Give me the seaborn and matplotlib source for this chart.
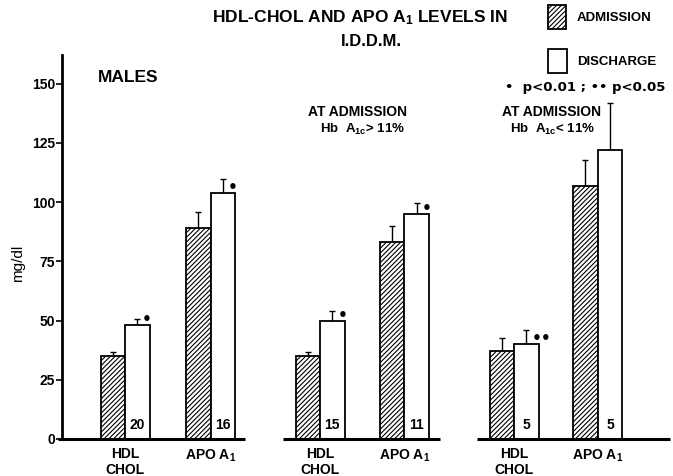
import matplotlib
matplotlib.use("Agg")
import matplotlib.pyplot as plt
import seaborn as sns
import pandas as pd
import numpy as np
from matplotlib.patches import Rectangle

# ---------------- data ----------------
measures = ["HDL\nCHOL", "APO A$_1$"]
groups = ["MALES", "Hb A1c > 11%", "Hb A1c < 11%"]
admission = [35, 89, 35, 83, 37, 107]
admission_err = [1.9, 6.9, 1.9, 7.1, 5.6, 11.0]
discharge = [48, 104, 50, 95, 40, 122]
discharge_err = [2.5, 6.0, 4.1, 4.8, 6.2, 19.7]
n_subjects = ["20", "16", "15", "11", "5", "5"]
significance = ["•", "•", "•", "•", "••", ""]
yticks = [0, 25, 50, 75, 100, 125, 150]

# ---------------- layout ----------------
W, H = 673, 476
sns.set_style("ticks")
FONT = "Liberation Sans"
plt.rcParams["font.family"] = [FONT, "DejaVu Sans"]
plt.rcParams["font.weight"] = "bold"
plt.rcParams["mathtext.fontset"] = "custom"
plt.rcParams["mathtext.bf"] = FONT + ":bold"
plt.rcParams["mathtext.rm"] = FONT + ":bold"
plt.rcParams["mathtext.default"] = "bf"
plt.rcParams["hatch.linewidth"] = 0.8
for k in ["text.color", "axes.labelcolor", "xtick.color", "ytick.color", "axes.edgecolor"]:
    plt.rcParams[k] = "black"

fig = plt.figure(figsize=(W / 100, H / 100), dpi=100)
x0_px, y0_px, ytop_px = 62, 439, 55
ax = fig.add_axes([x0_px / W, (H - y0_px) / H, (W - x0_px) / W, (y0_px - ytop_px) / H])

# pair centres in pixel-like layout units
pair_centers = [125, 210.7, 320, 404.3, 514, 597.7]
baselines = [(58, 245), (283, 440), (477, 670)]

rows = []
for i, c in enumerate(pair_centers):
    rows.append({"pos": c, "phase": "Admission", "value": admission[i]})
    rows.append({"pos": c, "phase": "Discharge", "value": discharge[i]})
df = pd.DataFrame(rows)

sns.barplot(data=df, x="pos", y="value", hue="phase", native_scale=True,
            width=49 / 83.7, palette={"Admission": "white", "Discharge": "white"},
            edgecolor="black", linewidth=1.3, errorbar=None, legend=False,
            dodge=True, ax=ax, zorder=3)

adm_bars = list(ax.containers[0])
dis_bars = list(ax.containers[1])
for b in adm_bars:
    b.set_hatch("///////")

def centers(bars):
    return [b.get_x() + b.get_width() / 2 for b in bars]

xa, xd = centers(adm_bars), centers(dis_bars)
ax.errorbar(xa, admission, yerr=[np.zeros(6), admission_err], fmt="none",
            ecolor="black", elinewidth=1.0, capsize=2.5, capthick=1.0, zorder=2)
ax.errorbar(xd, discharge, yerr=[np.zeros(6), discharge_err], fmt="none",
            ecolor="black", elinewidth=1.0, capsize=2.5, capthick=1.0, zorder=2)

for i in range(6):
    ax.text(xd[i], 3, n_subjects[i], ha="center", va="bottom", fontsize=10,
            fontweight="bold", zorder=5)
    if significance[i]:
        ax.text(xd[i] + 5, discharge[i] + 2.3, significance[i], ha="left",
                va="center", fontsize=11, fontweight="bold",
                family=["DejaVu Sans"])

for a, b in baselines:
    ax.hlines(0, a, b, color="black", lw=2.2, clip_on=False, zorder=4)

ax.set_xlim(x0_px, W)
ax.set_ylim(0, (y0_px - ytop_px) / 2.368)
ax.set_yticks(yticks)
ax.set_yticklabels([str(t) for t in yticks], fontsize=10, fontweight="bold")
ax.tick_params(axis="y", direction="out", length=4, width=1.2, pad=1)
ax.set_xticks(pair_centers)
ax.set_xticklabels(measures * 3, fontsize=10, fontweight="bold", linespacing=1.15)
ax.tick_params(axis="x", length=0, pad=6)
ax.set_xlabel("")
ax.set_ylabel("mg/dl", fontsize=11, fontweight="normal")
ax.yaxis.set_label_coords((25 - x0_px) / (W - x0_px), (y0_px - 263) / (y0_px - ytop_px))
for s in ["top", "right", "bottom"]:
    ax.spines[s].set_visible(False)
ax.spines["left"].set_linewidth(2)

def ftext(x, y, s, **kw):
    fig.text(x / W, 1 - y / H, s, **kw)

ftext(360, 18, "HDL-CHOL AND APO A$_1$ LEVELS IN", ha="center", va="center",
      fontsize=12.5, fontweight="bold")
ftext(371, 42, "I.D.D.M.", ha="center", va="center", fontsize=12, fontweight="bold")
ftext(98, 78, "MALES", ha="left", va="center", fontsize=12.5, fontweight="bold")
ftext(358, 112, "AT ADMISSION", ha="center", va="center", fontsize=10, fontweight="bold")
ftext(363, 129, "Hb  A$_{1c}$> 11%", ha="center", va="center", fontsize=9.5, fontweight="bold")
ftext(551, 112, "AT ADMISSION", ha="center", va="center", fontsize=10, fontweight="bold")
ftext(553, 129, "Hb  A$_{1c}$< 11%", ha="center", va="center", fontsize=9.5, fontweight="bold")

# legend
fig.patches.append(Rectangle((548 / W, 1 - 29 / H), 18 / W, 24 / H, transform=fig.transFigure,
                             facecolor="white", edgecolor="black", lw=1.3, hatch="///////"))
fig.patches.append(Rectangle((548 / W, 1 - 73 / H), 19 / W, 24 / H, transform=fig.transFigure,
                             facecolor="white", edgecolor="black", lw=1.3))
ftext(577, 18, "ADMISSION", ha="left", va="center", fontsize=9.5, fontweight="bold")
ftext(577, 62, "DISCHARGE", ha="left", va="center", fontsize=9.5, fontweight="bold")
ftext(585, 88, "•  p<0.01 ; •• p<0.05", ha="center", va="center", fontsize=9.5,
      fontweight="bold", family=["DejaVu Sans"])

fig.savefig("out.png", dpi=100)
